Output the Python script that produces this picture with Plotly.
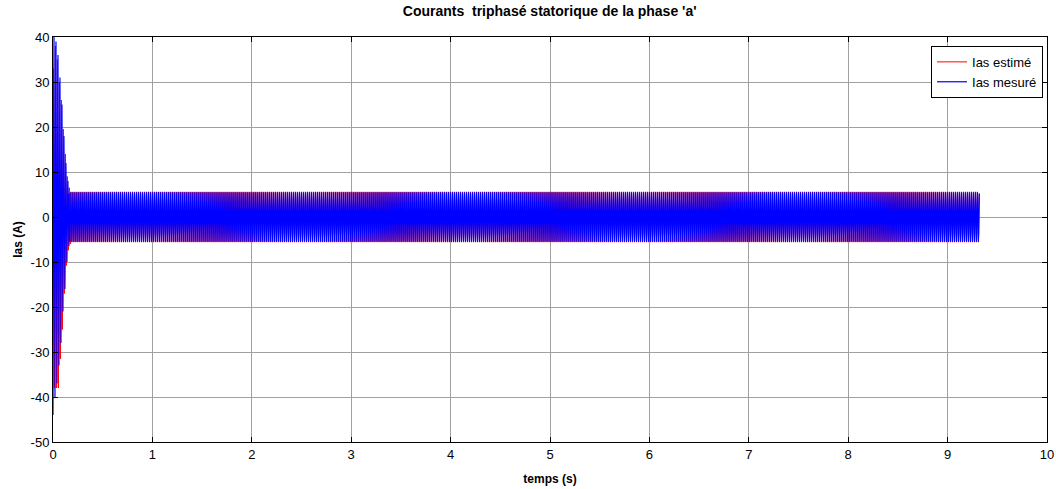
import numpy as np
import plotly.graph_objects as go

# ---- data ----
# transient extrema (time s, current A) at start-up
blue_peak_t = [0.000, 0.010, 0.020, 0.030, 0.040, 0.050, 0.060, 0.070, 0.080, 0.090,
               0.100, 0.110, 0.120, 0.130, 0.140, 0.150, 0.160]
blue_peak_v = [-44, 40, -40, 39, -37, 36, -33, 31, -28, 25,
               -21, 18, -16, 12, -10, 8, -6.5]
red_peak_t = [0.004, 0.014, 0.024, 0.034, 0.044, 0.054, 0.064, 0.074, 0.084, 0.094,
              0.104, 0.114, 0.124, 0.134, 0.144, 0.154, 0.164, 0.174]
red_peak_v = [33, -38, 38, -38, 35, -38, 30, -31.5, 26, -25,
              19.5, -17, 14, -10.8, 9, -7.4, 6.5, -6]
# steady state
f_supply = 50.0          # Hz
steady_start = 0.16      # s
steady_end = 9.32        # s
amp_blue = 5.5           # A
amp_red = 5.6            # A

x_ticks = [0, 1, 2, 3, 4, 5, 6, 7, 8, 9, 10]
y_ticks = [-50, -40, -30, -20, -10, 0, 10, 20, 30, 40]

# ---- build series ----
dt = 0.001
ts = np.arange(steady_start + dt, steady_end, dt)
blue_t = np.concatenate([blue_peak_t, ts])
blue_v = np.concatenate([blue_peak_v, amp_blue * np.sin(2 * np.pi * f_supply * ts + np.pi / 2)])
red_t = np.concatenate([red_peak_t, ts])
red_v = np.concatenate([red_peak_v, amp_red * np.sin(2 * np.pi * f_supply * ts + np.pi / 2 - 0.06)])

FONT = "Liberation Sans, Arial"

fig = go.Figure()
fig.add_trace(go.Scatter(x=red_t, y=red_v, mode="lines", name="Ias estimé",
                         line=dict(color="#ff0000", width=1)))
fig.add_trace(go.Scatter(x=blue_t, y=blue_v, mode="lines", name="Ias mesuré",
                         line=dict(color="#0000ff", width=1.2)))

axis_common = dict(showline=True, linecolor="black", linewidth=1, mirror="ticks",
                   ticks="inside", ticklen=5, tickcolor="black", automargin=False,
                   showgrid=True, gridcolor="#a0a0a0", gridwidth=1, zeroline=False,
                   tickfont=dict(family=FONT, size=13, color="black"))

fig.update_layout(
    width=1056, height=489,
    margin=dict(l=53, r=9, t=37, b=47, autoexpand=False),
    paper_bgcolor="white", plot_bgcolor="white",
    title=dict(text="<b>Courants  triphasé statorique de la phase 'a'</b>",
               x=0.5205, xanchor="center", y=0.987, yanchor="top",
               font=dict(family=FONT, size=14, color="black")),
    xaxis=dict(range=[0, 10], tickvals=x_ticks, ticktext=[str(v) for v in x_ticks],
               title=dict(text="<b>temps (s)</b>", standoff=14,
                          font=dict(family=FONT, size=12, color="black")),
               **axis_common),
    yaxis=dict(range=[-50, 40], tickvals=y_ticks, ticktext=[str(v) for v in y_ticks],
               title=dict(text="<b>Ias (A)</b>", standoff=5,
                          font=dict(family=FONT, size=12, color="black")),
               **axis_common),
    legend=dict(x=0.996, xanchor="right", y=0.978, yanchor="top",
                bgcolor="white", bordercolor="black", borderwidth=1,
                font=dict(family=FONT, size=13, color="black"),
                tracegroupgap=0),
    showlegend=True,
)

fig.write_html("out.html", config={"displayModeBar": False},
               post_script="document.body.style.margin='0px';document.body.style.padding='0px';")
